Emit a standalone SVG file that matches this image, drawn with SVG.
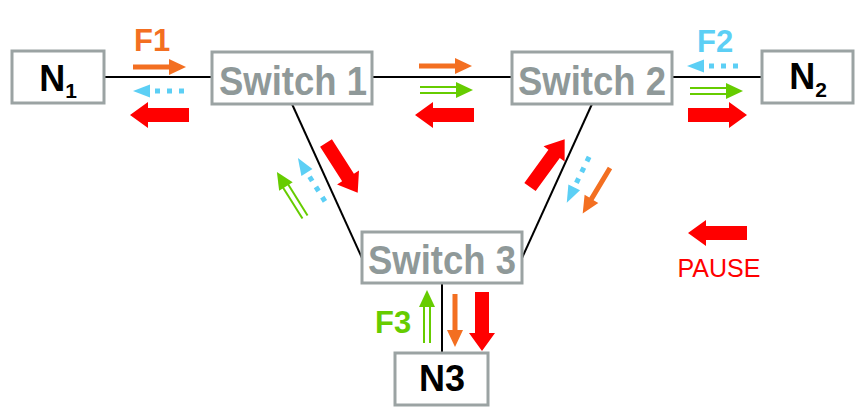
<svg xmlns="http://www.w3.org/2000/svg" xmlns:xlink="http://www.w3.org/1999/xlink" width="865" height="408" viewBox="0 0 865 408">
<style>
.box{fill:#fff;stroke:#9ba3a3;stroke-width:3}
.sw{font-family:"Liberation Sans",Arial,sans-serif;font-weight:bold;font-size:40px;fill:#8f9999;text-anchor:middle}
.nt{font-family:"Liberation Sans",Arial,sans-serif;font-weight:bold;font-size:36px;fill:#000;text-anchor:middle}
.fl{font-family:"Liberation Sans",Arial,sans-serif;font-weight:bold;font-size:31px}
.ln{stroke:#000;stroke-width:2;fill:none}
.red{fill:#ff0000}
.org{fill:#f36f21}
.cy{fill:#5ccff5}
</style>
<defs>
<g id="fat"><path d="M0,-7 H41 V-13 L59,0 L41,13 V7 H0 Z" fill="#ff0000"/></g>
<g id="thin"><path d="M0,-2.5 H36 V-8 L53,0 L36,8 V2.5 H0 Z" fill="#f36f21"/></g>
<g id="dot"><line x1="2" y1="0" x2="34" y2="0" stroke="#5ccff5" stroke-width="5" stroke-dasharray="5,7"/><path d="M36,-6.5 L53,0 L36,6.5 Z" fill="#5ccff5"/></g>
<g id="dbl"><line x1="0" y1="-3" x2="40" y2="-3" stroke="#66cc00" stroke-width="2"/><line x1="0" y1="3" x2="40" y2="3" stroke="#66cc00" stroke-width="2"/><path d="M36,-8 L53,0 L36,8 Z" fill="#66cc00"/></g>
</defs>
<g id="connectors">
<line class="ln" x1="104" y1="77" x2="212" y2="77"/>
<line class="ln" x1="372" y1="77" x2="512" y2="77"/>
<line class="ln" x1="672" y1="77" x2="762" y2="77"/>
<line class="ln" x1="292" y1="104" x2="362" y2="258"/>
<line class="ln" x1="592" y1="104" x2="522" y2="258"/>
<line class="ln" x1="442" y1="283" x2="442" y2="353"/>
</g>
<g id="N1"><rect class="box" x="12" y="51" width="92" height="52"/><text class="nt" x="58" y="91">N<tspan font-size="21" dy="7">1</tspan></text></g>
<g id="switch1"><rect class="box" x="212" y="52" width="160" height="52"/><text class="sw" x="293" y="95" textLength="148" lengthAdjust="spacingAndGlyphs">Switch 1</text></g>
<g id="switch2"><rect class="box" x="512" y="52" width="160" height="52"/><text class="sw" x="592" y="95" textLength="148" lengthAdjust="spacingAndGlyphs">Switch 2</text></g>
<g id="N2"><rect class="box" x="762" y="51" width="91" height="52"/><text class="nt" x="808" y="89">N<tspan font-size="21" dy="8">2</tspan></text></g>
<g id="switch3"><rect class="box" x="362" y="232" width="160" height="51"/><text class="sw" x="442" y="274" textLength="148" lengthAdjust="spacingAndGlyphs">Switch 3</text></g>
<g id="N3"><rect class="box" x="395" y="353" width="93" height="52"/><text class="nt" x="442" y="391" font-size="34">N3</text></g>
<g id="flows">
<text class="fl org" x="134" y="51">F1</text>
<text class="fl cy" x="697" y="52">F2</text>
<text class="fl" x="375" y="333" fill="#66cc00">F3</text>
<use xlink:href="#thin" transform="translate(133,67)"/>
<use xlink:href="#dot" transform="translate(186,91) rotate(180)"/>
<use xlink:href="#fat" transform="translate(189,115) rotate(180)"/>
<use xlink:href="#thin" transform="translate(419,66)"/>
<use xlink:href="#dbl" transform="translate(420,90)"/>
<use xlink:href="#fat" transform="translate(474,115) rotate(180)"/>
<use xlink:href="#dot" transform="translate(740,66) rotate(180)"/>
<use xlink:href="#dbl" transform="translate(690,91)"/>
<use xlink:href="#fat" transform="translate(688,115)"/>
<use xlink:href="#fat" transform="translate(326,143) rotate(57.5)"/>
<use xlink:href="#dot" transform="translate(326,203) rotate(-122)"/>
<use xlink:href="#dbl" transform="translate(305,217) rotate(-122)"/>
<use xlink:href="#fat" transform="translate(530,187) rotate(-54)"/>
<use xlink:href="#dot" transform="translate(590,155) rotate(116)"/>
<use xlink:href="#thin" transform="translate(610,168) rotate(121)"/>
<use xlink:href="#dbl" transform="translate(427,343) rotate(-90)"/>
<use xlink:href="#thin" transform="translate(455,294) rotate(90)"/>
<use xlink:href="#fat" transform="translate(482,292) rotate(90)"/>
</g>
<g id="legend">
<use xlink:href="#fat" transform="translate(747,233) rotate(180)"/>
<text x="719" y="277" font-family="'Liberation Sans',Arial,sans-serif" font-size="25" fill="#ff0000" text-anchor="middle">PAUSE</text>
</g>
</svg>
